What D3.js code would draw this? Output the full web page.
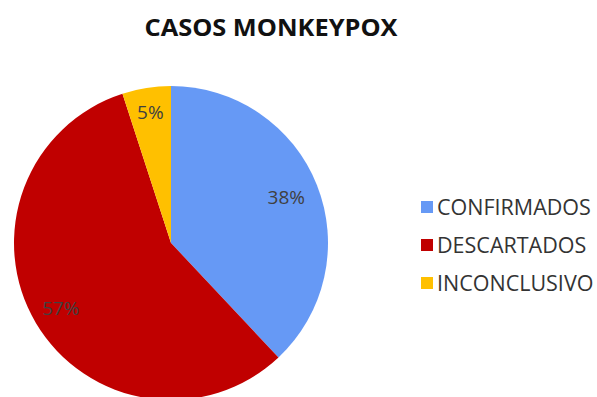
<!DOCTYPE html>
<html>
<head>
<meta charset="utf-8">
<script src="https://cdn.jsdelivr.net/npm/d3@7"></script>
<style>
  body { margin: 0; background: #fff; }
  text { font-family: "Open Sans", "Liberation Sans", sans-serif; }
</style>
</head>
<body>
<div id="container"></div>
<script>
const width = 597, height = 397;

// data
const categories = ["CONFIRMADOS", "DESCARTADOS", "INCONCLUSIVO"];
const values = [38, 57, 5];
const colors = ["#6699F5", "#C00000", "#FFC000"];

const svg = d3.select("#container")
  .append("svg")
  .attr("width", width)
  .attr("height", height);

// title
svg.append("text")
  .attr("x", 271)
  .attr("y", 36)
  .attr("text-anchor", "middle")
  .style("font-size", "24px")
  .style("font-weight", "bold")
  .attr("textLength", 253)
  .attr("lengthAdjust", "spacingAndGlyphs")
  .attr("fill", "#111")
  .text("CASOS MONKEYPOX");

const cx = 171, cy = 243, r = 157;

const pie = d3.pie().sort(null).value(d => d.value);
const arc = d3.arc().innerRadius(0).outerRadius(r);

const data = categories.map((c, i) => ({ name: c, value: values[i], color: colors[i] }));
const total = d3.sum(values);

const g = svg.append("g")
  .attr("transform", `translate(${cx},${cy})`);

const slices = pie(data);

g.selectAll("path")
  .data(slices)
  .enter()
  .append("path")
  .attr("d", arc)
  .attr("fill", d => d.data.color);

// labels
const labelRadius = [0.79, 0.815, 0.84];
g.selectAll(".lbl")
  .data(slices)
  .enter()
  .append("text")
  .attr("class", "lbl")
  .attr("transform", (d, i) => {
    const a = (d.startAngle + d.endAngle) / 2;
    const rr = r * labelRadius[i];
    return `translate(${Math.sin(a) * rr},${-Math.cos(a) * rr})`;
  })
  .attr("text-anchor", "middle")
  .attr("dy", "0.35em")
  .style("font-size", "19px")
  .attr("fill", "#404040")
  .text(d => Math.round(d.data.value / total * 100) + "%");

// legend
const legend = svg.append("g")
  .attr("transform", "translate(421,201)");

const items = legend.selectAll("g")
  .data(data)
  .enter()
  .append("g")
  .attr("transform", (d, i) => `translate(0,${i * 38})`);

items.append("rect")
  .attr("width", 12)
  .attr("height", 12)
  .attr("fill", d => d.color);

items.append("text")
  .attr("x", 16)
  .attr("y", 6)
  .attr("dy", "0.35em")
  .style("font-size", "21.5px")
  .attr("fill", "#333")
  .text(d => d.name);
</script>
</body>
</html>
